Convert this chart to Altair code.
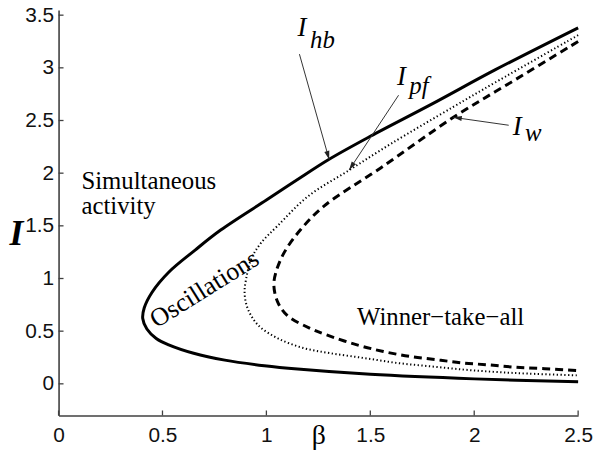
import math
import altair as alt
import pandas as pd

# ---------------- data ----------------
# I_hb : solid curve, points ordered along the curve (upper end -> tip -> lower end)
hb_beta = [2.5, 2.1, 1.8, 1.5, 1.30, 1.15, 1.0, 0.78, 0.657, 0.53, 0.45, 0.412, 0.405,
           0.425, 0.47, 0.53, 0.65, 0.8, 0.99, 1.15, 1.5, 2.0, 2.5]
hb_I = [3.38, 2.98, 2.66, 2.35, 2.13, 1.94, 1.745, 1.46, 1.27, 1.06, 0.87, 0.72, 0.62,
        0.52, 0.43, 0.37, 0.29, 0.225, 0.172, 0.14, 0.09, 0.047, 0.02]

# I_pf : dotted curve
pf_beta = [2.5, 2.1, 1.9, 1.6, 1.4, 1.2, 1.054, 0.975, 0.927, 0.903, 0.895, 0.91,
           0.96, 1.054, 1.18, 1.31, 1.47, 1.63, 1.79, 1.95, 2.1, 2.26, 2.5]
pf_I = [3.31, 2.86, 2.63, 2.28, 2.03, 1.78, 1.50, 1.34, 1.185, 1.0, 0.87, 0.715,
        0.558, 0.433, 0.339, 0.29, 0.245, 0.198, 0.166, 0.135, 0.113, 0.097, 0.08]

# I_w : dashed curve
w_beta = [2.5, 2.2, 1.9, 1.55, 1.277, 1.166, 1.086, 1.046, 1.036, 1.054, 1.10, 1.21,
          1.29, 1.436, 1.563, 1.69, 1.818, 1.945, 2.07, 2.2, 2.34, 2.5]
w_I = [3.25, 2.89, 2.53, 2.05, 1.687, 1.467, 1.248, 1.06, 0.934, 0.778, 0.65, 0.527,
       0.464, 0.37, 0.307, 0.26, 0.229, 0.198, 0.18, 0.157, 0.144, 0.125]

x_ticks = [0, 0.5, 1, 1.5, 2, 2.5]
y_ticks = [0, 0.5, 1, 1.5, 2, 2.5, 3, 3.5]

# region labels: text, beta, I
region_text = ["Simultaneous\nactivity", "Winner\u2212take\u2212all"]
region_beta = [0.11, 1.436]
region_I = [1.85, 0.555]

osc_text = ["Oscillations"]
osc_beta = [0.722]
osc_I = [0.835]

# curve names: main letter + subscript
name_main = ["I", "I", "I"]
name_main_beta = [1.150, 1.628, 2.186]
name_main_I = [3.30, 2.84, 2.36]
name_sub = ["hb", "pf", "w"]
name_sub_beta = [1.210, 1.688, 2.244]
name_sub_I = [3.19, 2.75, 2.305]

# arrows: start (beta, I) -> tip (beta2, I2)
arr_beta = [1.159, 1.636, 2.166]
arr_I = [3.13, 2.74, 2.455]
arr_beta2 = [1.302, 1.398, 1.899]
arr_I2 = [2.13, 2.03, 2.53]

# ---------------- layout ----------------
W, H = 524, 409
X_DOM = [0, 2.5]
Y_DOM = [-0.3, 3.55]
SERIF = "Liberation Serif"
SANS = "Liberation Sans"

xs = alt.Scale(domain=X_DOM, nice=False, zero=False)
ys = alt.Scale(domain=Y_DOM, nice=False, zero=False)

x_axis = alt.Axis(values=x_ticks, format="~g", grid=False, ticks=False, tickSize=0,
                  labelFlush=False, labelOverlap=False,
                  labelFont=SANS, labelFontSize=21, labelColor="#111111", labelPadding=9,
                  domainColor="#404040", domainWidth=1.6,
                  title="\u03b2", titleFont=SERIF, titleFontSize=28, titleFontWeight="normal",
                  titleColor="#000000", titleX=262, titleY=28, titleBaseline="alphabetic",
                  titleAlign="center")
y_axis = alt.Axis(values=y_ticks, format="~g", grid=False, ticks=False, tickSize=0,
                  labelFlush=False, labelOverlap=False,
                  labelFont=SANS, labelFontSize=21, labelColor="#111111", labelPadding=5,
                  domainColor="#404040", domainWidth=1.6,
                  title="I", titleFont=SERIF, titleFontSize=36, titleFontStyle="italic",
                  titleFontWeight="bold", titleColor="#000000", titleAngle=0,
                  titleX=-43, titleY=237, titleBaseline="alphabetic", titleAlign="center")

X = alt.X("beta:Q", scale=xs, axis=x_axis)
Y = alt.Y("I:Q", scale=ys, axis=y_axis)


def curve_df(b, i):
    return pd.DataFrame({"beta": b, "I": i, "k": list(range(len(b)))})


def curve(b, i, width, dash):
    kw = dict(color="black", strokeWidth=width, interpolate="catmull-rom")
    if dash:
        kw["strokeDash"] = dash
    return alt.Chart(curve_df(b, i)).mark_line(**kw).encode(x=X, y=Y, order="k:Q")


hb = curve(hb_beta, hb_I, 3, None)
pf = curve(pf_beta, pf_I, 2, [1.3, 2.5])
w = curve(w_beta, w_I, 3, [8, 5])

# inward tick marks
xt = alt.Chart(pd.DataFrame({"beta": x_ticks})).mark_rule(
    color="#404040", strokeWidth=1.3).encode(x=X, y=alt.value(H), y2=alt.value(H - 5))
yt = alt.Chart(pd.DataFrame({"I": y_ticks})).mark_rule(
    color="#404040", strokeWidth=1.3).encode(y=Y, x=alt.value(0), x2=alt.value(5))

# region texts
reg = alt.Chart(pd.DataFrame({"beta": region_beta, "I": region_I, "t": region_text})).mark_text(
    font=SERIF, fontSize=25, align="left", baseline="alphabetic", color="black",
    lineBreak="\n", lineHeight=25
).encode(x=X, y=Y, text="t:N")

osc = alt.Chart(pd.DataFrame({"beta": osc_beta, "I": osc_I, "t": osc_text})).mark_text(
    font=SERIF, fontSize=26, align="center", baseline="alphabetic", angle=328, color="black"
).encode(x=X, y=Y, text="t:N")

nm = alt.Chart(pd.DataFrame({"beta": name_main_beta, "I": name_main_I, "t": name_main})).mark_text(
    font=SERIF, fontSize=27, fontStyle="italic", align="left", baseline="alphabetic", color="black"
).encode(x=X, y=Y, text="t:N")
ns = alt.Chart(pd.DataFrame({"beta": name_sub_beta, "I": name_sub_I, "t": name_sub})).mark_text(
    font=SERIF, fontSize=25, fontStyle="italic", align="left", baseline="alphabetic", color="black"
).encode(x=X, y=Y, text="t:N")

# arrows
arr_df = pd.DataFrame({"beta": arr_beta, "I": arr_I, "beta2": arr_beta2, "I2": arr_I2})
px_x = W / (X_DOM[1] - X_DOM[0])
px_y = H / (Y_DOM[1] - Y_DOM[0])
arr_df["ang"] = [
    math.degrees(math.atan2((b2 - b1) * px_x, (i2 - i1) * px_y)) % 360
    for b1, i1, b2, i2 in zip(arr_beta, arr_I, arr_beta2, arr_I2)
]
shaft = alt.Chart(arr_df).mark_rule(color="#333333", strokeWidth=1).encode(
    x=X, y=Y, x2="beta2:Q", y2="I2:Q")
head = alt.Chart(arr_df).mark_point(
    shape="M0,0L-0.3,1L0.3,1Z", filled=True, color="#222222", size=300, opacity=1
).encode(x=alt.X("beta2:Q", scale=xs, axis=x_axis), y=alt.Y("I2:Q", scale=ys, axis=y_axis),
         angle=alt.Angle("ang:Q", scale=None))

chart = alt.layer(hb, pf, w, xt, yt, reg, osc, nm, ns, shaft, head).properties(
    width=W, height=H,
    autosize=alt.AutoSizeParams(type="none"),
    padding={"left": 51, "top": 0, "right": 15, "bottom": 40},
).configure_view(stroke=None)

chart.save("out.html", embed_options={"renderer": "svg", "actions": False})
